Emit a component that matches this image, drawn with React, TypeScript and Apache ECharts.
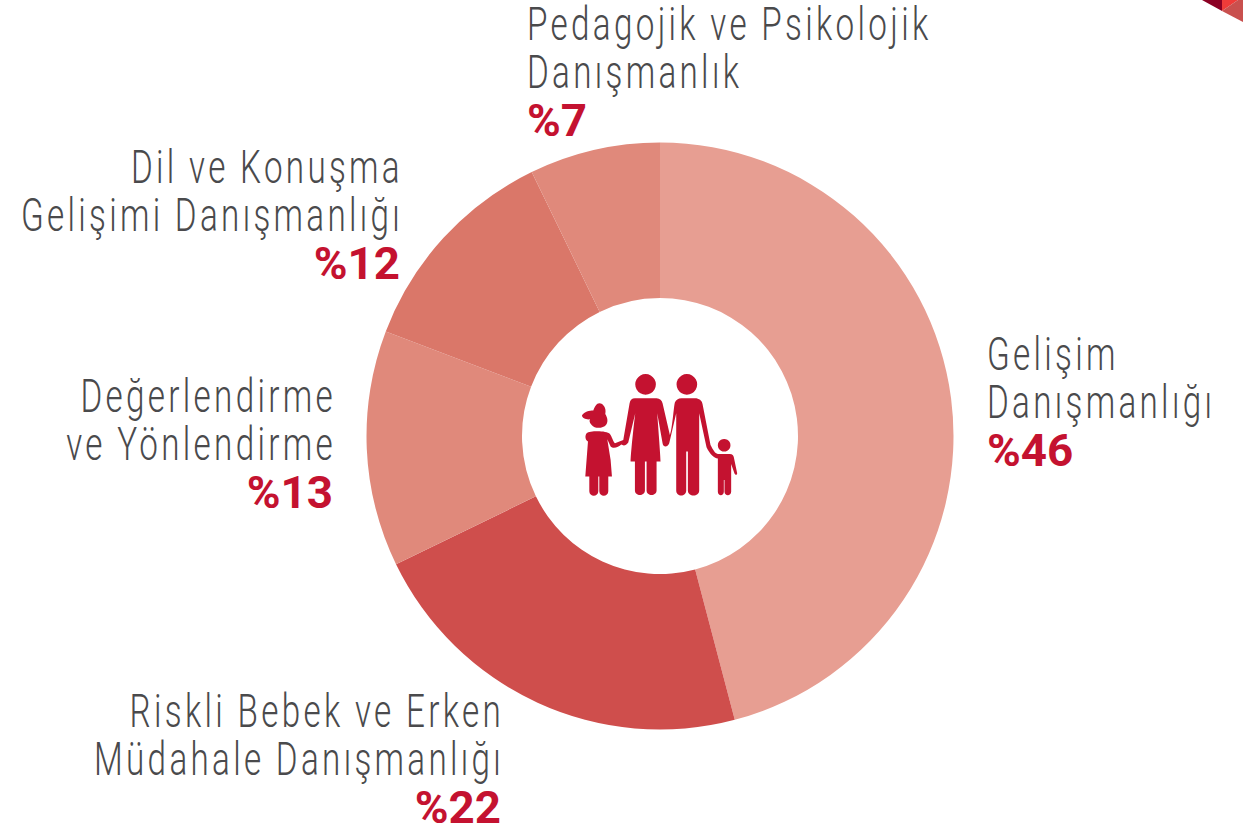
import React, { useEffect, useRef } from "react";
import * as echarts from "echarts";

const categories = ["Gelişim Danışmanlığı", "Riskli Bebek ve Erken Müdahale Danışmanlığı", "Değerlendirme ve Yönlendirme", "Dil ve Konuşma Gelişimi Danışmanlığı", "Pedagojik ve Psikolojik Danışmanlık"];
const values = [45.9, 21.9, 13, 12, 7.2];
const percentLabels = ["%46", "%22", "%13", "%12", "%7"];
const sliceColors = ["#e79e92", "#cf4e4c", "#e0897b", "#da7769", "#e0897b"];
const labelLines = [["Gelişim", "Danışmanlığı"], ["Riskli Bebek ve Erken", "Müdahale Danışmanlığı"], ["Değerlendirme", "ve Yönlendirme"], ["Dil ve Konuşma", "Gelişimi Danışmanlığı"], ["Pedagojik ve Psikolojik", "Danışmanlık"]];
const labelAnchors = [[987, 371, "left"], [504, 728, "right"], [336, 413, "right"], [403, 184, "right"], [527, 41, "left"]];

const familyPath = "M257 42a31 31 0 1 1 -0.1 0Z M381 42a31 31 0 1 1 -0.1 0Z M493 237a19 19 0 1 1 -0.1 0Z M118 130C130 130 140 145 136 162C142 172 146 185 138 195C130 205 105 208 95 195C88 188 88 182 90 178C80 180 66 175 66 167C68 160 85 150 100 152C104 140 110 130 118 130Z M225 115H290C300 115 306 122 308 130L330 225C337 212 342 135 345 128C348 120 355 115 365 115H405C418 115 426 122 428 132L452 255C460 270 465 280 474 282H510C518 282 521 286 522 292L532 340C532 346 526 346 524 341L514 312V396C514 410 494 410 494 396V360H492V396C492 410 474 410 474 396V296C462 295 450 282 440 262L418 160V392C418 412 384 412 384 392V275H379V392C379 412 349 412 349 392V160L328 250C322 264 310 262 308 250L292 160C294 190 302 290 302 305H290V392C290 410 260 410 260 392V305H255V392C255 410 225 410 225 392V305H212C212 285 222 190 226 160L205 248C198 258 190 258 184 254C176 262 160 268 152 260L142 238L152 300L156 350H145V394C145 412 118 412 118 394V350H115V394C115 412 88 412 88 394V350H76L84 245C76 240 74 228 80 220C90 212 140 212 150 222C155 228 160 245 165 250L190 240L209 130C211 120 216 115 225 115Z";
echarts.graphic.registerShape("family", echarts.graphic.extendPath(familyPath, {}));

const textFont = "Roboto";
const lineStep = 48;
const labelGraphics: any[] = [];
labelLines.forEach((lines, i) => {
  const [x, y, align] = labelAnchors[i] as [number, number, string];
  lines.forEach((line, j) => {
    labelGraphics.push({ type: "text", x, y: y - 39 + j * lineStep, scaleX: 0.722, style: { text: line, font: `300 46px ${textFont}`, fill: "#4a4a4c", textAlign: align, textVerticalAlign: "top" } });
  });
  labelGraphics.push({ type: "text", x: align === "right" ? x - 3 : x, y: y - 38 + 2 * lineStep, scaleX: 1.04, style: { text: percentLabels[i], font: `700 44px ${textFont}`, fill: "#c41230", textAlign: align, textVerticalAlign: "top" } });
});

export default function App() {
  const ref = useRef<HTMLDivElement>(null);
  useEffect(() => {
    const chart = echarts.init(ref.current!, null, { renderer: "svg" });
    chart.setOption({
      animation: false,
      backgroundColor: "#ffffff",
      series: [{
        type: "pie", center: [660, 436], radius: [138, 293.5], startAngle: 90, clockwise: true, silent: true,
        label: { show: false }, labelLine: { show: false },
        data: categories.map((name, i) => ({ name, value: values[i], itemStyle: { color: sliceColors[i] } })),
      }],
      graphic: [
        ...labelGraphics,
        { type: "family", x: 560, y: 360, scaleX: 1 / 3, scaleY: 1 / 3, style: { fill: "#c41230" } },
        { type: "polygon", shape: { points: [[1202, 0], [1222, 0], [1222, 11]] }, style: { fill: "#8b0023" } },
        { type: "polygon", shape: { points: [[1222, 0], [1238, 0], [1222, 11]] }, style: { fill: "#ef3b39" } },
        { type: "polygon", shape: { points: [[1238, 0], [1243, 0], [1243, 22], [1222, 11]] }, style: { fill: "#c9504e" } },
      ],
    });
    return () => chart.dispose();
  }, []);
  return (
    <>
      <style>{`text[fill="#c41230"]{letter-spacing:0}`}</style>
      <div ref={ref} style={{ position: "absolute", left: 0, top: 0, width: 1243, height: 827, letterSpacing: "4.6px" }} />
    </>
  );
}
